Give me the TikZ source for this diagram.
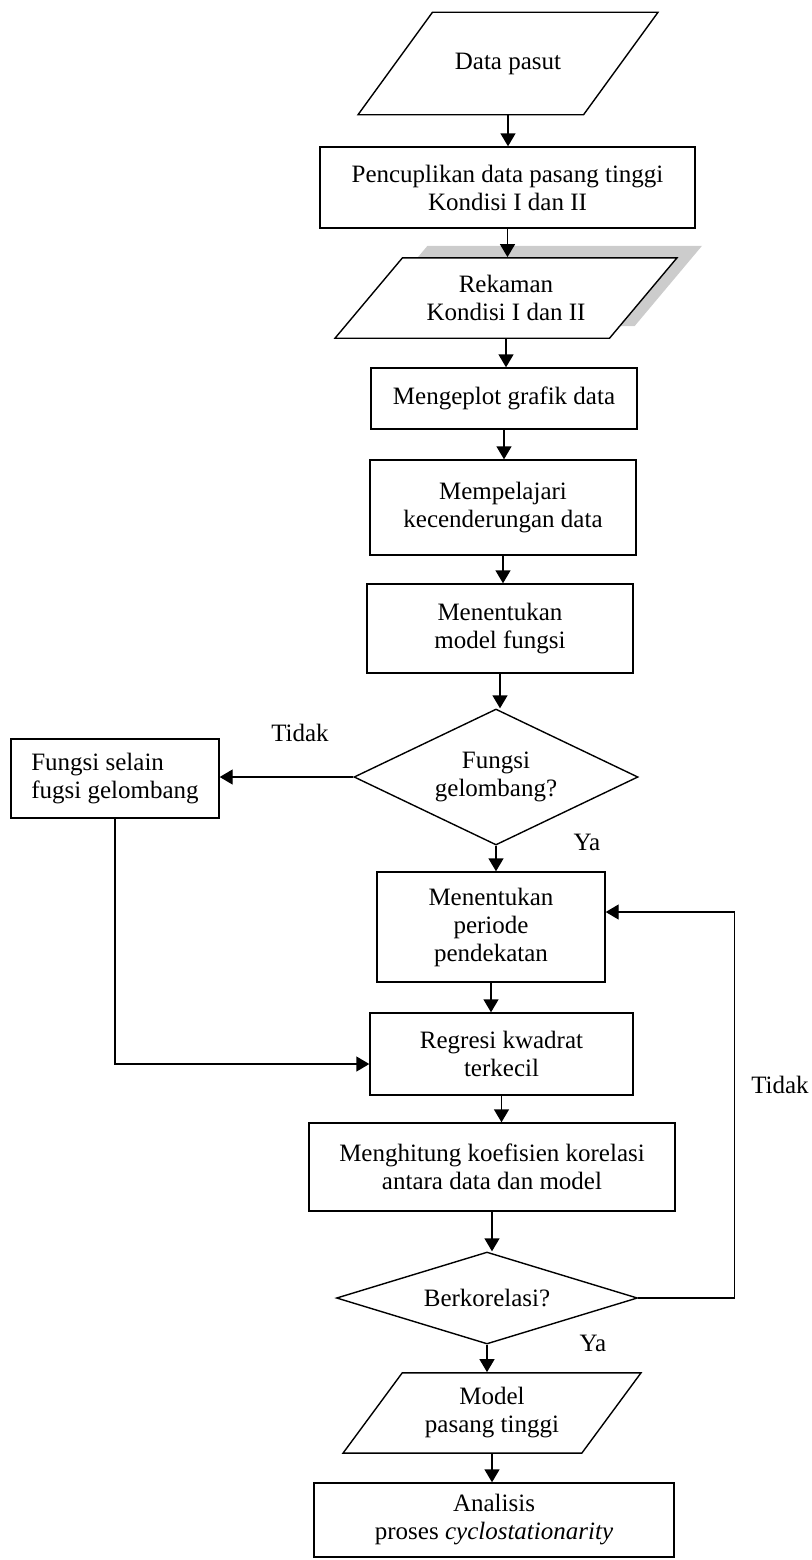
\documentclass[tikz,border=0pt]{standalone}
\usepackage{fontspec}
\setmainfont{Liberation Serif}
\usetikzlibrary{arrows.meta,shapes.geometric,shadows}

\begin{document}
\begin{tikzpicture}[
    x=0.5pt, y=-0.5pt,
    every node/.style={font=\fontsize{12.5}{14}\selectfont},
    process/.style={draw, line width=0.7pt, align=center, inner sep=2pt},
    io/.style={draw, line width=0.7pt, trapezium, trapezium stretches body, align=center, inner xsep=1pt},
    decision/.style={draw, line width=0.7pt, diamond, align=center, inner sep=1pt},
    flow/.style={-{Triangle[length=6.5pt,width=7.5pt]}, line width=0.7pt},
    answer/.style={inner sep=1pt}
]
    \useasboundingbox (0,0) rectangle (812,1560);

    \node[io, trapezium left angle=54, trapezium right angle=126, minimum width=150pt, inner ysep=20.2pt] (pasut) at (508,63.5) {Data pasut};
    \node[process, minimum width=187.5pt, minimum height=40.5pt] (cuplik) at (507.5,187.5) {Pencuplikan data pasang tinggi\\Kondisi I dan II};
    \node[io, trapezium left angle=50, trapezium right angle=130, minimum width=171pt, inner ysep=8.7pt, fill=white,
        general shadow={fill=gray!40, shadow xshift=12.5pt, shadow yshift=6pt}] (rekam) at (506,298) {Rekaman\\Kondisi I dan II};
    \node[process, minimum width=133pt, minimum height=30.5pt] (plot) at (504,398.5) {Mengeplot grafik data};
    \node[process, minimum width=133pt, minimum height=47.5pt] (pelajari) at (503,507.5) {Mempelajari\\kecenderungan data};
    \node[process, minimum width=133pt, minimum height=44.5pt] (fungsi) at (500,628.5) {Menentukan\\model fungsi};
    \node[decision, aspect=2.09, minimum width=142pt, minimum height=68pt] (gelombang) at (496,777) {Fungsi\\gelombang?};
    \node[process, align=left, minimum width=104pt, minimum height=39.5pt] (selain) at (115,778.5) {Fungsi selain\\fugsi gelombang};
    \node[process, minimum width=114pt, minimum height=55pt] (periode) at (491,927) {Menentukan\\periode\\pendekatan};
    \node[process, minimum width=131.5pt, minimum height=41pt] (regresi) at (501.5,1054) {Regresi kwadrat\\terkecil};
    \node[process, minimum width=183pt, minimum height=44pt] (hitung) at (492,1167) {Menghitung koefisien korelasi\\antara data dan model};
    \node[decision, aspect=3.27, minimum width=150.5pt, minimum height=46pt] (korelasi) at (487,1298) {Berkorelasi?};
    \node[io, trapezium left angle=53.6, trapezium right angle=126.4, minimum width=149pt, inner ysep=7.4pt] (pasang) at (492,1413) {Model\\pasang tinggi};
    \node[process, minimum width=180pt, minimum height=37pt] (analisis) at (494,1520) {Analisis\\proses \textit{cyclostationarity}};

    \node[answer] (tidakkiri) at (300,733) {Tidak};
    \node[answer] (yaatas) at (587,842) {Ya};
    \node[answer] (tidakkanan) at (780,1085) {Tidak};
    \node[answer] (yabawah) at (593,1343) {Ya};

    \draw[flow] (pasut.south) -- (pasut.south |- cuplik.north);
    \draw[flow] (cuplik.south) -- (cuplik.south |- rekam.north);
    \draw[flow] (rekam.south) -- (rekam.south |- plot.north);
    \draw[flow] (plot.south) -- (plot.south |- pelajari.north);
    \draw[flow] (pelajari.south) -- (pelajari.south |- fungsi.north);
    \draw[flow] (fungsi.south) -- (fungsi.south |- gelombang.north);
    \draw[flow] (gelombang.west) -- (gelombang.west -| selain.east);
    \draw[flow] (gelombang.south) -- (gelombang.south |- periode.north);
    \draw[flow] (periode.south) -- (periode.south |- regresi.north);
    \draw[flow] (selain.south) |- ([yshift=-5pt]regresi.west);
    \draw[flow] (regresi.south) -- (regresi.south |- hitung.north);
    \draw[flow] (hitung.south) -- (hitung.south |- korelasi.north);
    \draw[flow] (korelasi.east) -- ++(96,0) |- ([yshift=7.5pt]periode.east);
    \draw[flow] (korelasi.south) -- (korelasi.south |- pasang.north);
    \draw[flow] (pasang.south) -- (pasang.south |- analisis.north);
\end{tikzpicture}
\end{document}
